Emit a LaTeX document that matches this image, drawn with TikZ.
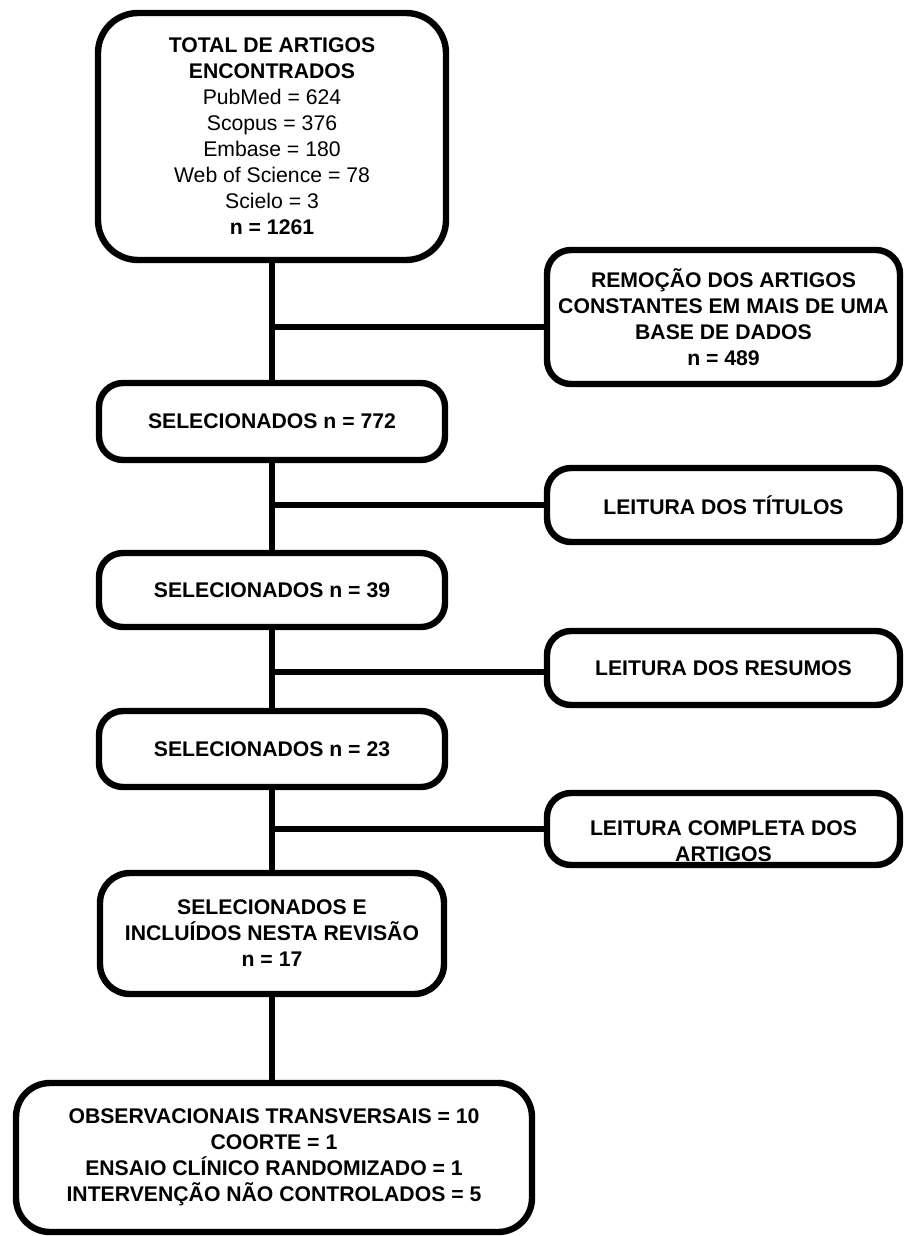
\documentclass[tikz,border=0pt]{standalone}
\usepackage{fontspec}
\setmainfont{Liberation Sans}

\begin{document}
\begin{tikzpicture}[x=0.5pt,y=-0.5pt,
  every node/.style={font=\fontsize{10.6}{13}\selectfont\bfseries, align=center},
  etapa/.style={draw, line width=3.2pt, rounded corners=12pt, inner sep=0pt},
  selec/.style={etapa, minimum width=173pt},
  leitura/.style={etapa, minimum width=176.5pt, minimum height=37pt},
  tronco/.style={line width=3.2pt}]
\useasboundingbox (0,0) rectangle (904,1236);
\node [etapa, rounded corners=20pt, minimum width=174pt, minimum height=123.5pt] (total) at (272,136.5) {TOTAL DE ARTIGOS\\ENCONTRADOS\\\textmd{PubMed = 624}\\\textmd{Scopus = 376}\\\textmd{Embase = 180}\\\textmd{Web of Science = 78}\\\textmd{Scielo = 3}\\n = 1261};
\node [selec, minimum height=38.5pt] (sel772) at (272,421.5) {SELECIONADOS n = 772};
\node [selec, minimum height=37pt] (sel39) at (272,590) {SELECIONADOS n = 39};
\node [selec, minimum height=38pt] (sel23) at (272,749) {SELECIONADOS n = 23};
\node [etapa, rounded corners=15pt, minimum width=172pt, minimum height=60.5pt] (incluidos) at (272,933.5) {SELECIONADOS E\\INCLUÍDOS NESTA REVISÃO\\n = 17};
\node [etapa, rounded corners=17pt, minimum width=258pt, minimum height=74.5pt] (estudos) at (274,1157.5) {OBSERVACIONAIS TRANSVERSAIS = 10\\COORTE = 1\\ENSAIO CLÍNICO RANDOMIZADO = 1\\INTERVENÇÃO NÃO CONTROLADOS = 5};
\node [leitura, minimum height=67pt] (remocao) at (723.5,317) {REMOÇÃO DOS ARTIGOS\\CONSTANTES EM MAIS DE UMA\\BASE DE DADOS\\n = 489};
\node [leitura] (titulos) at (723.5,505) {LEITURA DOS TÍTULOS};
\node [leitura] (resumos) at (723.5,668) {LEITURA DOS RESUMOS};
\node [leitura, minimum height=36pt] (completa) at (723.5,829) {\rule{0pt}{20pt}LEITURA COMPLETA DOS\\ARTIGOS};
\coordinate (j1) at (272,327);
\coordinate (j2) at (272,505);
\coordinate (j3) at (272,672);
\coordinate (j4) at (272,829);
\draw [tronco] (total) -- (sel772);
\draw [tronco] (sel772) -- (sel39);
\draw [tronco] (sel39) -- (sel23);
\draw [tronco] (sel23) -- (incluidos);
\draw [tronco] (incluidos) -- (incluidos |- estudos.north);
\draw [tronco] (j1) -- (j1 -| remocao.west);
\draw [tronco] (j2) -- (j2 -| titulos.west);
\draw [tronco] (j3) -- (j3 -| resumos.west);
\draw [tronco] (j4) -- (j4 -| completa.west);
\end{tikzpicture}
\end{document}
